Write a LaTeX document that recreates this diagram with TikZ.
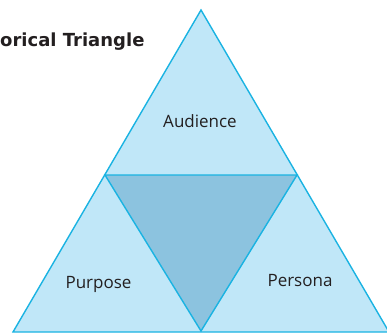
\documentclass[tikz,border=0pt]{standalone}
\usepackage{fontspec}
\setmainfont{Open Sans}
\newfontfamily\headfont{DejaVu Sans}
\definecolor{skyfill}{HTML}{C0E7F8}
\definecolor{midfill}{HTML}{8CC3DF}
\definecolor{edgeblue}{HTML}{1AB3E2}
\definecolor{inkgray}{HTML}{231F20}
\begin{document}
\begin{tikzpicture}[x=1pt,y=-1pt]
			\useasboundingbox (0,0) rectangle (387,333);
			\coordinate (T) at (201,10);
			\coordinate (L) at (13,332);
			\coordinate (R) at (389,332);
			\coordinate (M) at (105,175);
			\coordinate (N) at (297,175);
			\coordinate (K) at (201,331);
			\draw [line width=1.4, edgeblue, fill=skyfill, line join=miter] (L) to (T) to (R) to cycle;
			\draw [line width=1.4, edgeblue, fill=midfill] (M) to (N) to (K) to cycle;
			%\draw [line width=1.4, edgeblue] (L) to (R);
			\node[anchor=base west, inner sep=0, font=\headfont\bfseries\fontsize{18}{20}\selectfont, text=inkgray] (title) at (0,46) {orical Triangle};
			\node[font=\fontsize{17}{20}\selectfont, text=inkgray] (aud) at (200,121) {Audience};
			\node[font=\fontsize{17}{20}\selectfont, text=inkgray] (pur) at (98.5,284) {Purpose};
			\node[font=\fontsize{17}{20}\selectfont, text=inkgray] (per) at (300,281) {Persona};
		\end{tikzpicture}
\end{document}
